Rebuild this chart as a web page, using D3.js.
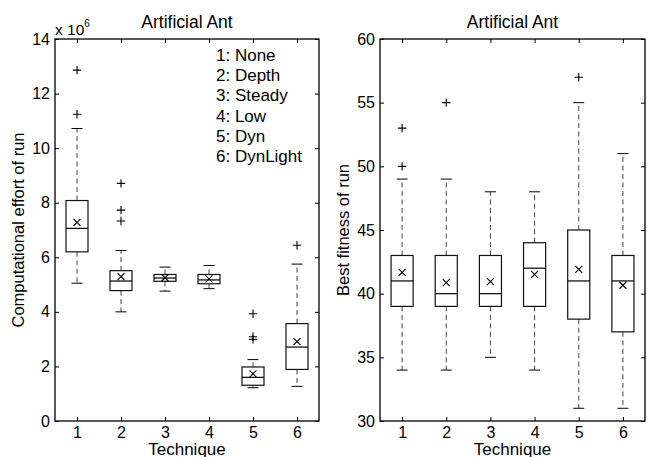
<!DOCTYPE html>
<html><head><meta charset="utf-8">
<script src="https://cdn.jsdelivr.net/npm/d3@7"></script>
<style>
body{margin:0;background:#fff;}
text{font-family:"Liberation Sans",Arial,Helvetica,sans-serif;fill:#000;}
</style></head>
<body>
<svg id="chart" width="653" height="457"></svg>
<script>
const techniques = [1, 2, 3, 4, 5, 6];
const legendLabels = ["1: None", "2: Depth", "3: Steady", "4: Low", "5: Dyn", "6: DynLight"];

// Left panel: computational effort (x 10^6)
const effortLow    = [5.05, 4.00, 4.76, 4.85, 1.22, 1.27];
const effortQ1     = [6.20, 4.78, 5.12, 5.03, 1.31, 1.89];
const effortMedian = [7.06, 5.13, 5.24, 5.17, 1.60, 2.71];
const effortQ3     = [8.08, 5.51, 5.37, 5.37, 1.98, 3.57];
const effortHigh   = [10.72, 6.25, 5.64, 5.70, 2.25, 5.75];
const effortMean   = [7.28, 5.29, 5.25, 5.21, 1.73, 2.91];
const effortOutliers = [[11.24, 12.86], [7.33, 7.73, 8.71], [], [], [2.99, 3.09, 3.93], [6.44]];
const effortTicks = [0, 2, 4, 6, 8, 10, 12, 14];

// Right panel: best fitness
const fitLow    = [34, 34, 35, 34, 31, 31];
const fitQ1     = [39, 39, 39, 39, 38, 37];
const fitMedian = [41, 40, 40, 42, 41, 41];
const fitQ3     = [43, 43, 43, 44, 45, 43];
const fitHigh   = [49, 49, 48, 48, 55, 51];
const fitMean   = [41.68, 40.87, 40.94, 41.52, 41.9, 40.66];
const fitOutliers = [[50, 53], [55], [], [], [57], []];
const fitTicks = [30, 35, 40, 45, 50, 55, 60];

const svg = d3.select("#chart");

function panel(opt) {
  const {left, right, top, bottom, yDomain, yTicks, low, q1, med, q3, high, mean, outliers, title, ylabel, ylabelX} = opt;
  const x = d3.scaleLinear().domain([0.5, 6.5]).range([left, right]);
  const y = d3.scaleLinear().domain(yDomain).range([bottom, top]);
  const g = svg.append("g");

  const fmt = d3.format("d");
  g.append("g").attr("transform", `translate(0,${bottom})`)
    .call(d3.axisBottom(x).tickValues(techniques).tickSizeInner(-4).tickSizeOuter(0).tickPadding(6).tickFormat(fmt));
  g.append("g").attr("transform", `translate(0,${top})`)
    .call(d3.axisTop(x).tickValues(techniques).tickSizeInner(-4).tickSizeOuter(0).tickFormat(""));
  g.append("g").attr("transform", `translate(${left},0)`)
    .call(d3.axisLeft(y).tickValues(yTicks).tickSizeInner(-4).tickSizeOuter(0).tickPadding(5).tickFormat(fmt));
  g.append("g").attr("transform", `translate(${right},0)`)
    .call(d3.axisRight(y).tickValues(yTicks).tickSizeInner(-4).tickSizeOuter(0).tickFormat(""));
  g.selectAll(".domain").remove();
  g.selectAll(".tick line").attr("stroke", "#000");
  g.selectAll(".tick text").attr("font-size", 16).attr("font-family", "Liberation Sans, Arial, sans-serif").attr("fill", "#000");
  g.append("rect").attr("x", left).attr("y", top).attr("width", right - left).attr("height", bottom - top)
    .attr("fill", "none").attr("stroke", "#000").attr("stroke-width", 1.3);

  const bw = (x(1.25) - x(1));
  const cw = (x(1.125) - x(1));
  const boxes = g.append("g").selectAll("g").data(techniques).join("g");
  boxes.append("line").attr("x1", d => x(d)).attr("x2", d => x(d))
    .attr("y1", (d, i) => y(q3[i])).attr("y2", (d, i) => y(high[i]))
    .attr("stroke", "#444").attr("stroke-dasharray", "5,3.5");
  boxes.append("line").attr("x1", d => x(d)).attr("x2", d => x(d))
    .attr("y1", (d, i) => y(q1[i])).attr("y2", (d, i) => y(low[i]))
    .attr("stroke", "#444").attr("stroke-dasharray", "5,3.5");
  boxes.append("line").attr("x1", d => x(d) - cw).attr("x2", d => x(d) + cw)
    .attr("y1", (d, i) => y(high[i])).attr("y2", (d, i) => y(high[i])).attr("stroke", "#000");
  boxes.append("line").attr("x1", d => x(d) - cw).attr("x2", d => x(d) + cw)
    .attr("y1", (d, i) => y(low[i])).attr("y2", (d, i) => y(low[i])).attr("stroke", "#000");
  boxes.append("rect").attr("x", d => x(d) - bw).attr("width", 2 * bw)
    .attr("y", (d, i) => y(q3[i])).attr("height", (d, i) => y(q1[i]) - y(q3[i]))
    .attr("fill", "none").attr("stroke", "#111").attr("stroke-width", 1.2);
  boxes.append("line").attr("x1", d => x(d) - bw).attr("x2", d => x(d) + bw)
    .attr("y1", (d, i) => y(med[i])).attr("y2", (d, i) => y(med[i])).attr("stroke", "#000").attr("stroke-width", 1.2);
  const m = 3.5;
  boxes.append("path").attr("d", (d, i) => {
    const cx = x(d), cy = y(mean[i]);
    return `M${cx - m},${cy - m}L${cx + m},${cy + m}M${cx - m},${cy + m}L${cx + m},${cy - m}`;
  }).attr("stroke", "#000").attr("stroke-width", 1.1);
  const p = 4.2;
  boxes.each(function (d, i) {
    d3.select(this).selectAll("path.out").data(outliers[i]).join("path").attr("class", "out")
      .attr("d", v => `M${x(d) - p},${y(v)}L${x(d) + p},${y(v)}M${x(d)},${y(v) - p}L${x(d)},${y(v) + p}`)
      .attr("stroke", "#000").attr("stroke-width", 1.1);
  });

  g.append("text").attr("x", (left + right) / 2).attr("y", 27.5).attr("text-anchor", "middle")
    .attr("font-size", 17.5).text(title);
  g.append("text").attr("x", (left + right) / 2).attr("y", 454.5).attr("text-anchor", "middle")
    .attr("font-size", 17).text("Technique");
  g.append("text").attr("transform", `translate(${ylabelX},${(top + bottom) / 2}) rotate(-90)`)
    .attr("text-anchor", "middle").attr("font-size", 16.5).text(ylabel);
  return {x, y, g};
}

panel({left: 55, right: 319, top: 39, bottom: 421, yDomain: [0, 14], yTicks: effortTicks,
  low: effortLow, q1: effortQ1, med: effortMedian, q3: effortQ3, high: effortHigh, mean: effortMean,
  outliers: effortOutliers, title: "Artificial Ant", ylabel: "Computational effort of run", ylabelX: 24});

panel({left: 380, right: 645, top: 39, bottom: 421, yDomain: [30, 60], yTicks: fitTicks,
  low: fitLow, q1: fitQ1, med: fitMedian, q3: fitQ3, high: fitHigh, mean: fitMean,
  outliers: fitOutliers, title: "Artificial Ant", ylabel: "Best fitness of run", ylabelX: 348.5});

const ex = svg.append("text").attr("x", 55).attr("y", 35).attr("font-size", 15.5);
ex.append("tspan").text("x 10");
ex.append("tspan").attr("dy", -8).attr("font-size", 10).text("6");

svg.append("g").selectAll("text").data(legendLabels).join("text")
  .attr("x", 216).attr("y", (d, i) => 61 + i * 20.2).attr("font-size", 17).text(d => d);
</script>
</body></html>
